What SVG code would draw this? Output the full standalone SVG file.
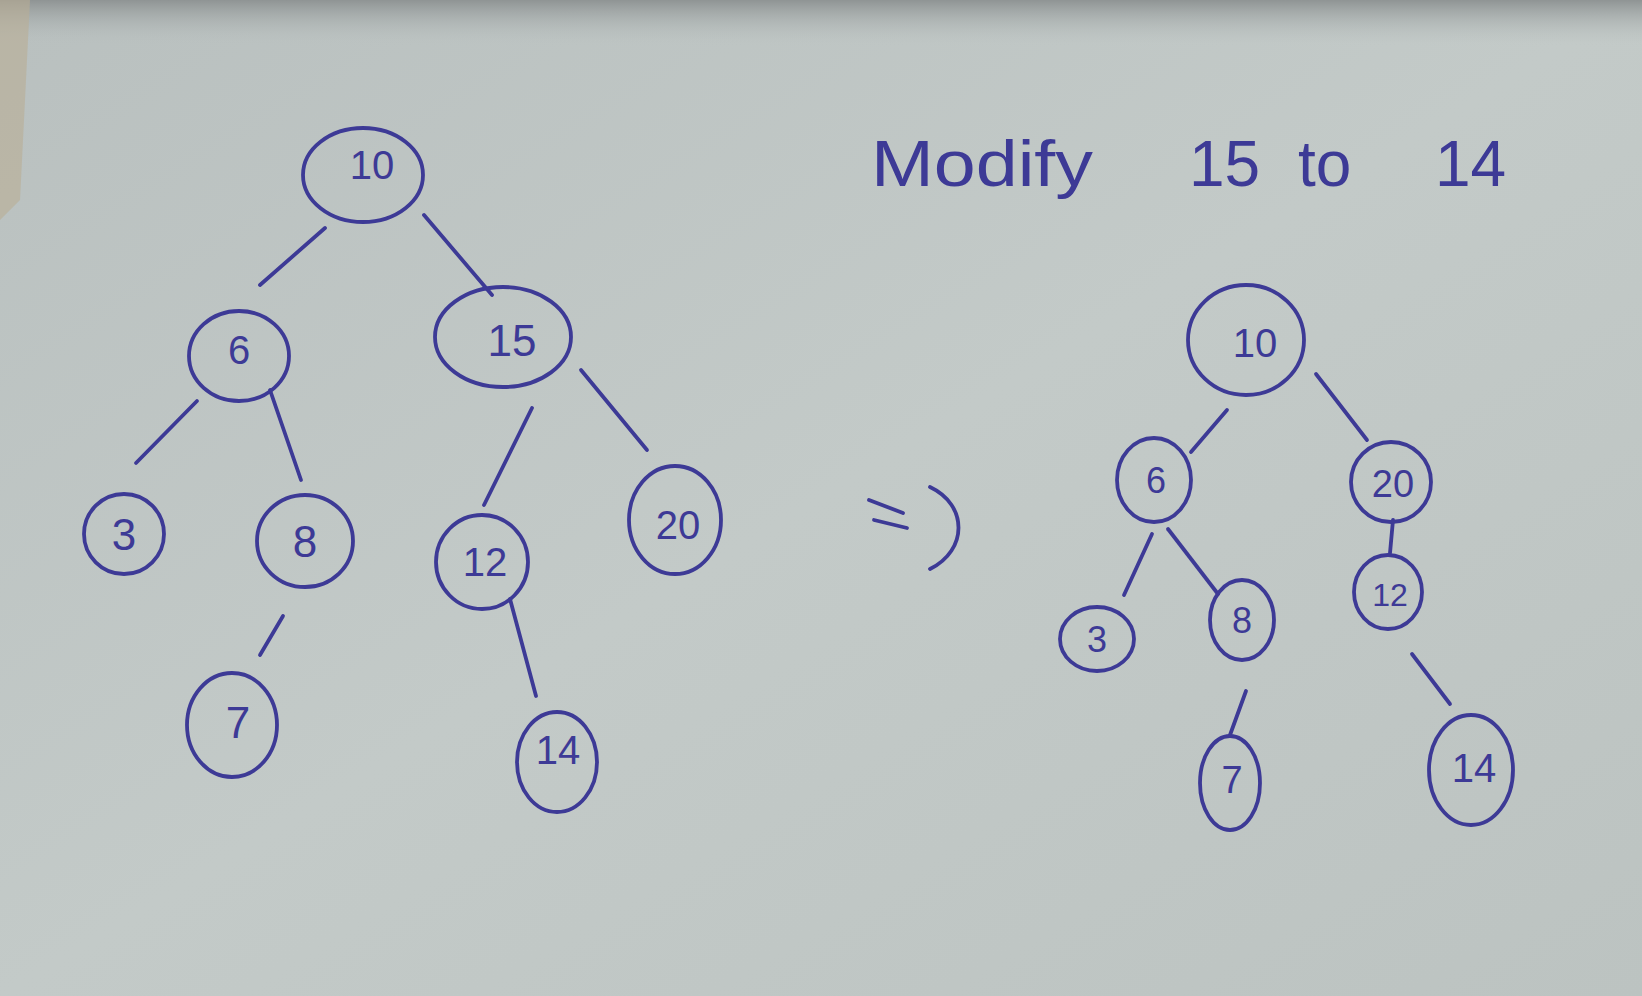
<svg xmlns="http://www.w3.org/2000/svg" width="1642" height="996" viewBox="0 0 1642 996">
<defs>
<linearGradient id="paper" x1="0" y1="0" x2="1" y2="1">
<stop offset="0" stop-color="#b9c0bf"/>
<stop offset="0.5" stop-color="#c3cac8"/>
<stop offset="1" stop-color="#bcc3c1"/>
</linearGradient>
<linearGradient id="top" x1="0" y1="0" x2="0" y2="1">
<stop offset="0" stop-color="#8f9494"/>
<stop offset="1" stop-color="#b9c0bf" stop-opacity="0"/>
</linearGradient>
<style>
.n ellipse{fill:none;stroke:#3d3a96;stroke-width:3.8}
.n text{font-family:"Liberation Sans",sans-serif;fill:#3d3a96;text-anchor:middle;dominant-baseline:central}
.e line{stroke:#3d3a96;stroke-width:3.8;stroke-linecap:round}
.t{font-family:"Liberation Sans",sans-serif;fill:#3d3a96;font-size:64px}
</style>
</defs>
<rect width="1642" height="996" fill="url(#paper)"/>
<rect width="1642" height="45" fill="url(#top)"/>
<polygon points="0,0 30,0 20,200 0,220" fill="#b9ad95" opacity="0.6"/>

<g id="connectors" class="e">
<line x1="325" y1="228" x2="260" y2="285"/>
<line x1="424" y1="215" x2="492" y2="295"/>
<line x1="197" y1="401" x2="136" y2="463"/>
<line x1="270" y1="390" x2="301" y2="480"/>
<line x1="532" y1="408" x2="484" y2="505"/>
<line x1="581" y1="370" x2="647" y2="450"/>
<line x1="283" y1="616" x2="260" y2="655"/>
<line x1="510" y1="599" x2="536" y2="696"/>
<line x1="1227" y1="410" x2="1191" y2="452"/>
<line x1="1316" y1="374" x2="1367" y2="440"/>
<line x1="1152" y1="534" x2="1124" y2="595"/>
<line x1="1168" y1="529" x2="1218" y2="594"/>
<line x1="1393" y1="520" x2="1390" y2="553"/>
<line x1="1246" y1="691" x2="1230" y2="735"/>
<line x1="1412" y1="654" x2="1450" y2="704"/>
</g>

<g id="L10" class="n"><ellipse cx="363" cy="175" rx="60" ry="47"/><text x="372" y="165" font-size="40">10</text></g>
<g id="L6" class="n"><ellipse cx="239" cy="356" rx="50" ry="45"/><text x="239" y="350" font-size="40">6</text></g>
<g id="L15" class="n"><ellipse cx="503" cy="337" rx="68" ry="50"/><text x="512" y="340" font-size="44">15</text></g>
<g id="L3" class="n"><ellipse cx="124" cy="534" rx="40" ry="40"/><text x="124" y="534" font-size="44">3</text></g>
<g id="L8" class="n"><ellipse cx="305" cy="541" rx="48" ry="46"/><text x="305" y="541" font-size="44">8</text></g>
<g id="L12" class="n"><ellipse cx="482" cy="562" rx="46" ry="47"/><text x="485" y="562" font-size="40">12</text></g>
<g id="L20" class="n"><ellipse cx="675" cy="520" rx="46" ry="54"/><text x="678" y="525" font-size="40">20</text></g>
<g id="L7" class="n"><ellipse cx="232" cy="725" rx="45" ry="52"/><text x="238" y="722" font-size="44">7</text></g>
<g id="L14" class="n"><ellipse cx="557" cy="762" rx="40" ry="50"/><text x="558" y="750" font-size="40">14</text></g>

<g id="arrow" fill="none" stroke="#3d3a96" stroke-width="3.8" stroke-linecap="round">
<line x1="869" y1="500" x2="903" y2="513"/>
<line x1="874" y1="520" x2="907" y2="528"/>
<path d="M930,487 C968,505 968,550 930,569"/>
</g>

<g id="title"><text class="t" x="871" y="186" textLength="222" lengthAdjust="spacingAndGlyphs">Modify</text><text class="t" x="1189" y="186">15</text><text class="t" x="1298" y="186">to</text><text class="t" x="1435" y="186">14</text></g>

<g id="R10" class="n"><ellipse cx="1246" cy="340" rx="58" ry="55"/><text x="1255" y="343" font-size="40">10</text></g>
<g id="R6" class="n"><ellipse cx="1154" cy="480" rx="37" ry="42"/><text x="1156" y="480" font-size="36">6</text></g>
<g id="R20" class="n"><ellipse cx="1391" cy="482" rx="40" ry="40"/><text x="1393" y="484" font-size="38">20</text></g>
<g id="R3" class="n"><ellipse cx="1097" cy="639" rx="37" ry="32"/><text x="1097" y="639" font-size="36">3</text></g>
<g id="R8" class="n"><ellipse cx="1242" cy="620" rx="32" ry="40"/><text x="1242" y="620" font-size="36">8</text></g>
<g id="R12" class="n"><ellipse cx="1388" cy="592" rx="34" ry="37"/><text x="1390" y="595" font-size="32">12</text></g>
<g id="R7" class="n"><ellipse cx="1230" cy="783" rx="30" ry="47"/><text x="1232" y="780" font-size="38">7</text></g>
<g id="R14" class="n"><ellipse cx="1471" cy="770" rx="42" ry="55"/><text x="1474" y="768" font-size="40">14</text></g>
</svg>
